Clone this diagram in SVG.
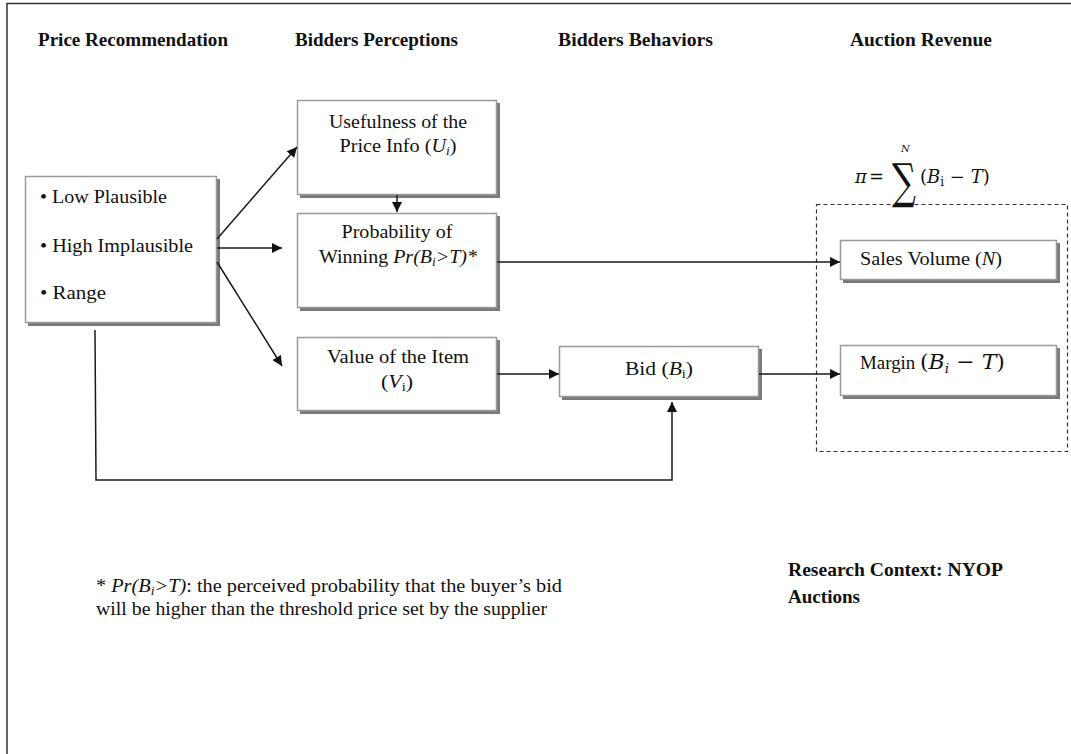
<svg xmlns="http://www.w3.org/2000/svg" width="1071" height="754" viewBox="0 0 1071 754">
<style>
.t{font-family:"Liberation Serif","Times New Roman",serif;font-size:18px;fill:#111}
.h{font-family:"Liberation Serif","Times New Roman",serif;font-size:19px;font-weight:bold;fill:#111}
.m{font-family:"DejaVu Serif","Liberation Serif",serif;fill:#111}
.box{fill:#fff;stroke:#9a9a9a;stroke-width:1.5}
.sh{fill:#7a7a7a}
.c{fill:none;stroke:#1a1a1a;stroke-width:1.5}
</style>
<defs>
<marker id="ar" viewBox="0 0 10 10" refX="10" refY="5" markerWidth="11" markerHeight="10" markerUnits="userSpaceOnUse" orient="auto">
<path d="M0,0 L10,5 L0,10 z" fill="#111"/>
</marker>
</defs>
<rect x="0" y="0" width="1071" height="754" fill="#fff"/>
<rect x="7" y="3.5" width="1080" height="770" fill="none" stroke="#333" stroke-width="1.5"/>

<g id="headers">
<text class="h" x="38" y="46" textLength="190" lengthAdjust="spacingAndGlyphs">Price Recommendation</text>
<text class="h" x="295" y="46" textLength="163" lengthAdjust="spacingAndGlyphs">Bidders Perceptions</text>
<text class="h" x="558" y="46" textLength="155" lengthAdjust="spacingAndGlyphs">Bidders Behaviors</text>
<text class="h" x="850" y="46" textLength="142" lengthAdjust="spacingAndGlyphs">Auction Revenue</text>
</g>

<g id="revenue-group">
<rect x="816.5" y="204.5" width="251" height="247" fill="none" stroke="#333" stroke-width="1.2" stroke-dasharray="4,3"/>
<text class="m" x="855" y="183" font-size="18" font-style="italic">π</text>
<text class="m" x="869" y="183" font-size="18">=</text>
<text class="m" transform="translate(892,198) scale(0.7,1)" font-size="48">∑</text>
<text class="m" x="901" y="152" font-size="10" font-style="italic">N</text>
<text class="m" x="920" y="183" font-size="18">(<tspan font-style="italic">B</tspan><tspan font-size="12" dy="3">i</tspan><tspan dy="-3"> − </tspan><tspan font-style="italic">T</tspan>)</text>
</g>

<g id="price-rec">
<rect class="sh" x="28" y="179" width="192" height="147"/>
<rect class="box" x="25.5" y="176.5" width="191" height="146"/>
<text class="t" x="40" y="203" textLength="127" lengthAdjust="spacingAndGlyphs">• Low Plausible</text>
<text class="t" x="40" y="252" textLength="153" lengthAdjust="spacingAndGlyphs">• High Implausible</text>
<text class="t" x="40" y="299" textLength="66" lengthAdjust="spacingAndGlyphs">• Range</text>
</g>

<g id="usefulness">
<rect class="sh" x="300" y="103" width="200" height="95"/>
<rect class="box" x="297.5" y="100.5" width="199" height="94"/>
<text class="t" x="398" y="128" text-anchor="middle" textLength="138" lengthAdjust="spacingAndGlyphs">Usefulness of the</text>
<text class="t" x="398" y="152" text-anchor="middle" textLength="117" lengthAdjust="spacingAndGlyphs">Price  Info (<tspan font-style="italic">U</tspan><tspan font-size="12" dy="3" font-style="italic">i</tspan><tspan dy="-3">)</tspan></text>
</g>

<g id="probability">
<rect class="sh" x="300" y="216" width="200" height="95"/>
<rect class="box" x="297.5" y="213.5" width="199" height="94"/>
<text class="t" x="397" y="238" text-anchor="middle" textLength="111" lengthAdjust="spacingAndGlyphs">Probability of</text>
<text class="t" x="398" y="263" text-anchor="middle" textLength="158" lengthAdjust="spacingAndGlyphs">Winning <tspan font-style="italic">Pr(B</tspan><tspan font-size="12" dy="3" font-style="italic">i</tspan><tspan dy="-3" font-style="italic">&gt;T)*</tspan></text>
</g>

<g id="value">
<rect class="sh" x="300" y="340" width="200" height="74"/>
<rect class="box" x="297.5" y="337.5" width="199" height="73"/>
<text class="t" x="398" y="363" text-anchor="middle" textLength="142" lengthAdjust="spacingAndGlyphs">Value of the Item</text>
<text class="t" x="397" y="388" text-anchor="middle" textLength="32" lengthAdjust="spacingAndGlyphs">(<tspan font-style="italic">V</tspan><tspan font-size="12" dy="3">i</tspan><tspan dy="-3">)</tspan></text>
</g>

<g id="bid">
<rect class="sh" x="562" y="349" width="200" height="51"/>
<rect class="box" x="559.5" y="346.5" width="199" height="50"/>
<text class="t" x="659" y="375" text-anchor="middle" textLength="68" lengthAdjust="spacingAndGlyphs">Bid (<tspan font-style="italic">B</tspan><tspan font-size="12" dy="3">i</tspan><tspan dy="-3">)</tspan></text>
</g>

<g id="sales">
<rect class="sh" x="843" y="243" width="217" height="40"/>
<rect class="box" x="840.5" y="240.5" width="216" height="39"/>
<text class="t" x="860" y="265" textLength="142" lengthAdjust="spacingAndGlyphs">Sales Volume (<tspan font-style="italic">N</tspan>)</text>
</g>

<g id="margin">
<rect class="sh" x="843" y="348" width="217" height="51"/>
<rect class="box" x="840.5" y="345.5" width="216" height="50"/>
<text class="t" x="860" y="369" textLength="145" lengthAdjust="spacingAndGlyphs">Margin <tspan class="m" font-size="21">(<tspan font-style="italic">B</tspan><tspan font-size="13" dy="4" font-style="italic">i</tspan><tspan dy="-4"> − </tspan><tspan font-style="italic">T</tspan>)</tspan></text>
</g>

<g id="connectors">
<line class="c" x1="217" y1="239" x2="297" y2="147" marker-end="url(#ar)"/>
<line class="c" x1="217" y1="248" x2="282" y2="248" marker-end="url(#ar)"/>
<line class="c" x1="217" y1="262" x2="282" y2="366" marker-end="url(#ar)"/>
<line class="c" x1="397" y1="195" x2="397" y2="212" marker-end="url(#ar)"/>
<line class="c" x1="497" y1="262" x2="840" y2="262" marker-end="url(#ar)"/>
<line class="c" x1="497" y1="374" x2="559" y2="374" marker-end="url(#ar)"/>
<line class="c" x1="759" y1="374" x2="840" y2="374" marker-end="url(#ar)"/>
<polyline class="c" points="95,330 96,480 672,480 672,402" marker-end="url(#ar)"/>
</g>

<g id="footnote">
<text class="t" x="96" y="592" textLength="466" lengthAdjust="spacingAndGlyphs">*   <tspan font-style="italic">Pr(B</tspan><tspan font-size="12" dy="3" font-style="italic">i</tspan><tspan dy="-3" font-style="italic">&gt;T)</tspan>:  the perceived probability that the buyer’s bid</text>
<text class="t" x="96" y="615" textLength="451" lengthAdjust="spacingAndGlyphs">will  be higher than the threshold price set by the supplier</text>
</g>

<g id="context">
<text class="h" x="788" y="576" textLength="215" lengthAdjust="spacingAndGlyphs">Research Context: NYOP</text>
<text class="h" x="788" y="603" textLength="72" lengthAdjust="spacingAndGlyphs">Auctions</text>
</g>
</svg>
